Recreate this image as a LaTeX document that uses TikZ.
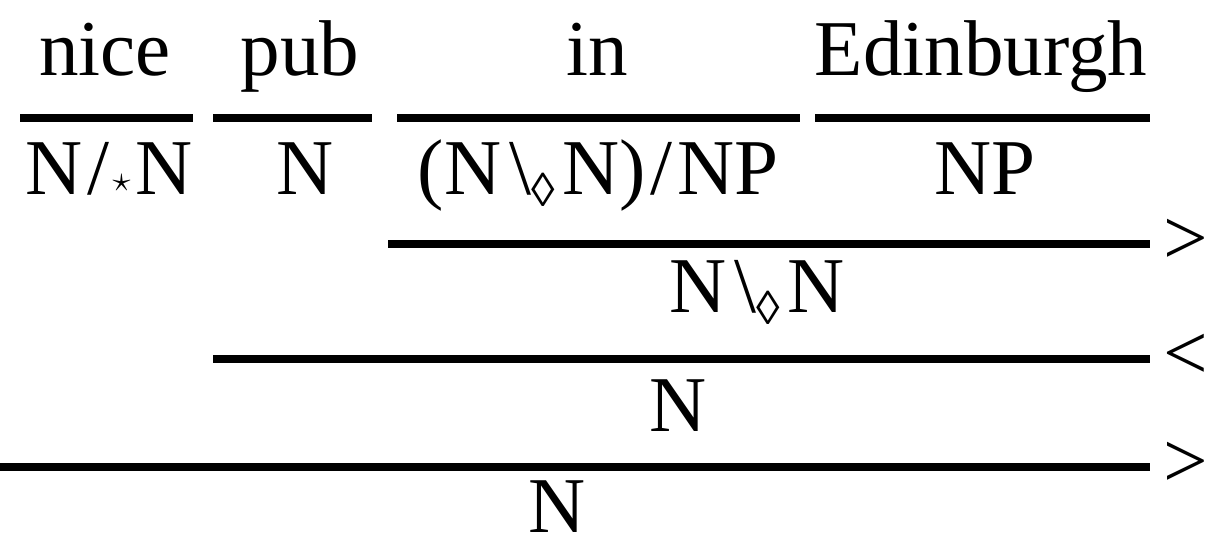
\documentclass[tikz,border=0pt]{standalone}
\usepackage{fontspec}
\usepackage{graphicx}
\setmainfont{Liberation Serif}
\usetikzlibrary{positioning}

% slash modalities
\newcommand{\fstar}{\kern0.06em/\kern0.04em\raisebox{0.05em}{$\scriptscriptstyle\star$}\kern0.06em}
\newcommand{\bdia}{\kern0.1em\textbackslash\kern0em\raisebox{-0.14em}{\scalebox{0.6}{◊}}\kern0.1em}
\newcommand{\fsl}{\kern0.06em/\kern0.06em}

\begin{document}
\begin{tikzpicture}[
    x=0.02cm, y=-0.02cm,
    word/.style={anchor=base, inner sep=0pt, font=\fontsize{45pt}{54pt}\selectfont},
    rule/.style={line width=4.6pt},
    comb/.style={anchor=west, inner sep=0pt, font=\fontsize{45pt}{54pt}\selectfont}
]
    \useasboundingbox (0,0) rectangle (1208,546);

    % Words
    \node[word] (w1) at (105,76) {nice};
    \node[word] (w2) at (300,76) {pub};
    \node[word] (w3) at (597,76) {in};
    \node[word] (w4) at (981,76) {Edinburgh};

    % Lexical rules
    \coordinate (l1a) at (20,118);  \coordinate (l1b) at (193,118);
    \coordinate (l2a) at (213,118); \coordinate (l2b) at (372,118);
    \coordinate (l3a) at (397,118); \coordinate (l3b) at (800,118);
    \coordinate (l4a) at (815,118); \coordinate (l4b) at (1150,118);
    \draw[rule] (l1a) -- (l1b);
    \draw[rule] (l2a) -- (l2b);
    \draw[rule] (l3a) -- (l3b);
    \draw[rule] (l4a) -- (l4b);

    % Categories
    \node[word] (c1) at (109,195) {N\fstar N};
    \node[word] (c2) at (305,195) {N};
    \node[word] (c3) at (598,195) {(N\bdia N)\fsl NP};
    \node[word] (c4) at (985,195) {NP};

    % Forward application: in Edinburgh
    \coordinate (r1a) at (388,244); \coordinate (r1b) at (1150,244);
    \draw[rule] (r1a) -- (r1b);
    \node[comb] (o1) at (1163,242) {>};
    \node[word] (d1) at (757,313) {N\bdia N};

    % Backward application: pub in Edinburgh
    \coordinate (r2a) at (213,359); \coordinate (r2b) at (1150,359);
    \draw[rule] (r2a) -- (r2b);
    \node[comb] (o2) at (1163,357) {<};
    \node[word] (d2) at (678,432) {N};

    % Forward application: nice pub in Edinburgh
    \coordinate (r3a) at (0,467); \coordinate (r3b) at (1150,467);
    \draw[rule] (r3a) -- (r3b);
    \node[comb] (o3) at (1163,465) {>};
    \node[word] (d3) at (557,533) {N};
\end{tikzpicture}
\end{document}
